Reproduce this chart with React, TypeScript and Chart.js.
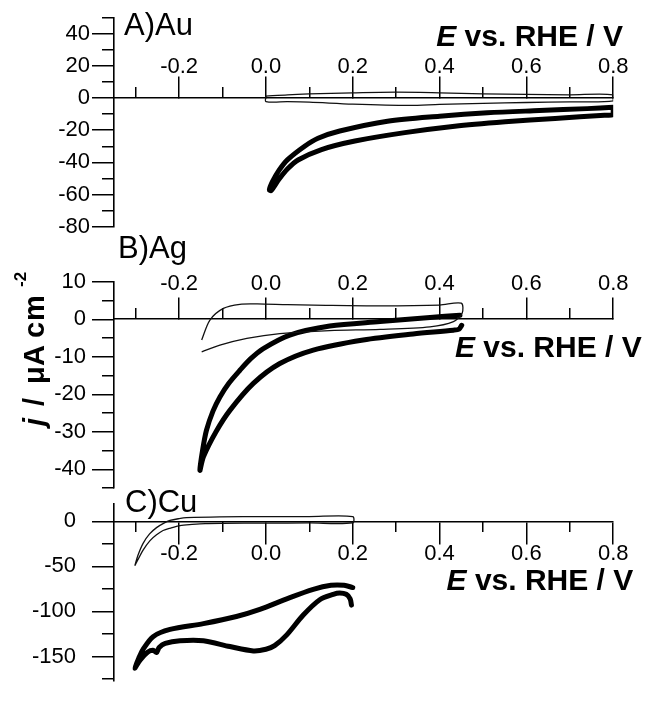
import React, { useEffect, useRef } from 'react';
import { Chart, registerables } from 'chart.js';

Chart.register(...registerables);

const FONT = '"Liberation Sans", Arial, Helvetica, sans-serif';

// ---- axis ticks ----
const xMajorTicks = [-0.2, 0.0, 0.2, 0.4, 0.6, 0.8];
const xMinorTicks = [-0.3, -0.1, 0.1, 0.3, 0.5, 0.7];
const auYMajor = [-80, -60, -40, -20, 0, 20, 40];
const auYMinor = [-70, -50, -30, -10, 10, 30, 50];
const agYMajor = [-40, -30, -20, -10, 0, 10];
const agYMinor = [-45, -35, -25, -15, -5, 5];
const cuYMajor = [-150, -100, -50, 0];
const cuYMinor = [-175, -125, -75, -25];

// ---- A) Au ----
const auThinE = [0.0, 0.05, 0.1, 0.2, 0.3, 0.4, 0.5, 0.6, 0.7, 0.8, 0.8, 0.7, 0.6, 0.5, 0.4, 0.33, 0.2, 0.1, 0.05, 0.0, 0.0];
const auThinJ = [1.2, 2.0, 2.5, 3.2, 3.6, 3.2, 2.6, 2.2, 2.0, 2.0, -1.8, -2.4, -2.8, -3.4, -4.0, -4.6, -3.8, -2.6, -2.3, -2.2, 1.2];
const auThickE = [0.8, 0.74, 0.63, 0.51, 0.40, 0.28, 0.17, 0.12, 0.09, 0.05, 0.03, 0.015, 0.008, 0.012, 0.03, 0.05, 0.074, 0.128, 0.205, 0.32, 0.435, 0.551, 0.666, 0.78, 0.8, 0.8];
const auThickJ = [-5.8, -6.6, -7.8, -9.2, -11.3, -14.4, -20.5, -25.0, -29.8, -38.3, -45.0, -52.0, -57.0, -57.5, -50.5, -44.0, -38.5, -32.0, -26.7, -21.5, -17.5, -14.8, -12.7, -10.7, -10.3, -5.8];

// ---- B) Ag ----
const agThinE = [-0.148, -0.129, -0.098, -0.06, -0.02, 0.05, 0.109, 0.263, 0.40, 0.45, 0.452, 0.432, 0.378, 0.263, 0.147, 0.032, -0.044, -0.106, -0.148];
const agThinJ = [-5.5, -0.2, 2.9, 4.0, 4.1, 3.9, 3.8, 3.6, 3.8, 4.3, 1.6, -0.6, -2.0, -2.7, -3.0, -3.8, -5.1, -6.9, -8.7];
const agThickE = [0.451, 0.445, 0.432, 0.339, 0.224, 0.109, 0.032, -0.029, -0.083, -0.115, -0.144, -0.152, -0.146, -0.137, -0.122, -0.106, -0.085, -0.06, -0.035, -0.006, 0.055, 0.147, 0.263, 0.378, 0.447];
const agThickJ = [-1.6, -2.6, -2.9, -3.9, -5.5, -8.2, -11.8, -17.1, -24.3, -30.0, -36.7, -40.3, -35.0, -29.6, -24.5, -20.7, -17.0, -13.6, -10.5, -7.8, -4.2, -1.8, -0.6, 0.5, 1.1];

// ---- C) Cu ----
const cuThinE = [-0.302, -0.295, -0.283, -0.268, -0.252, -0.235, -0.221, -0.2, -0.183, -0.106, 0.0, 0.1, 0.2, 0.2, 0.1, 0.0, -0.1, -0.14, -0.17, -0.198, -0.22, -0.237, -0.252, -0.267, -0.283, -0.302];
const cuThinJ = [-49.3, -38.0, -24.5, -14.0, -7.0, -2.0, 1.0, 3.0, 4.0, 5.0, 5.2, 5.3, 5.3, -1.6, -1.8, -2.0, -2.2, -2.5, -3.5, -4.8, -7.5, -10.2, -15.0, -21.4, -32.0, -49.3];
const cuThickE = [0.2, 0.18, 0.15, 0.109, 0.048, -0.014, -0.068, -0.144, -0.221, -0.26, -0.283, -0.293, -0.302, -0.29, -0.272, -0.26, -0.252, -0.246, -0.232, -0.198, -0.144, -0.083, -0.029, 0.0, 0.02, 0.048, 0.086, 0.124, 0.155, 0.17, 0.185, 0.194, 0.197];
const cuThickJ = [-73.5, -71.0, -71.0, -75.5, -86.0, -97.7, -105.6, -113.5, -120.0, -128.0, -142.0, -152.0, -163.0, -154.0, -145.0, -143.0, -145.5, -140.0, -135.5, -132.6, -132.6, -139.0, -143.8, -142.0, -138.0, -126.0, -104.0, -87.0, -81.0, -79.5, -81.0, -86.0, -93.0];

const toPts = (xs: number[], ys: number[]) => xs.map((x, i) => ({ x, y: ys[i] }));

type PanelDef = {
  yMin: number;
  yMax: number;
  yMajor: number[];
  yMinor: number[];
  padTop: number;
  padBottom: number;
  xUp: boolean;
  xLabelPad: number;
  yLabelPad: number;
  label: string;
  labelX: number;
  labelY: number;
  titleRight: number;
  titleY: number;
  yTitle: boolean;
  thin: { x: number; y: number }[];
  thick: { x: number; y: number }[];
};

const X_MIN = -0.35;
const X_MAX = 0.8;

function drawXTitle(ctx: CanvasRenderingContext2D, right: number, y: number) {
  ctx.save();
  ctx.fillStyle = '#000';
  ctx.textBaseline = 'alphabetic';
  ctx.textAlign = 'left';
  const f1 = `italic bold 30px ${FONT}`;
  const f2 = `bold 30px ${FONT}`;
  ctx.font = f1;
  const w1 = ctx.measureText('E').width;
  ctx.font = f2;
  const rest = ' vs. RHE / V';
  const w2 = ctx.measureText(rest).width;
  const x0 = right - w1 - w2;
  ctx.font = f1;
  ctx.fillText('E', x0, y);
  ctx.font = f2;
  ctx.fillText(rest, x0 + w1, y);
  ctx.restore();
}

function drawYTitle(ctx: CanvasRenderingContext2D, bx: number, by: number) {
  ctx.save();
  ctx.translate(bx, by);
  ctx.rotate(-Math.PI / 2);
  ctx.fillStyle = '#000';
  ctx.textAlign = 'left';
  ctx.textBaseline = 'alphabetic';
  const fi = `italic bold 29px ${FONT}`;
  const fb = `bold 29px ${FONT}`;
  ctx.font = fi;
  ctx.fillText('j', 1, 0);
  ctx.font = fb;
  ctx.fillText('/', 21, 0);
  ctx.fillText('\u03bc', 43, 0);
  ctx.fillText('A', 61, 0);
  ctx.fillText('c', 89, 0);
  ctx.fillText('m', 106, 0);
  ctx.font = `bold 17px ${FONT}`;
  ctx.fillText('-2', 140, -18);
  ctx.restore();
}

function makeConfig(p: PanelDef): any {
  const textPlugin = {
    id: 'panelText',
    afterDraw(chart: any) {
      const ctx = chart.ctx as CanvasRenderingContext2D;
      ctx.save();
      ctx.fillStyle = '#000';
      ctx.font = `31px ${FONT}`;
      ctx.textAlign = 'left';
      ctx.textBaseline = 'alphabetic';
      ctx.fillText(p.label, p.labelX, p.labelY);
      ctx.restore();
      drawXTitle(ctx, p.titleRight, p.titleY);
      if (p.yTitle) drawYTitle(ctx, 44, 427);
    },
  };
  const tickFont = { family: FONT, size: 22 };
  return {
    type: 'line',
    data: {
      datasets: [
        {
          data: p.thin,
          borderColor: '#111',
          borderWidth: 1.3,
          pointRadius: 0,
          tension: 0.3,
          fill: false,
          xAxisID: 'x',
          yAxisID: 'y',
        },
        {
          data: p.thick,
          borderColor: '#000',
          borderWidth: 5,
          pointRadius: 0,
          tension: 0.3,
          fill: false,
          borderCapStyle: 'round',
          borderJoinStyle: 'round',
          xAxisID: 'x',
          yAxisID: 'y',
        },
      ],
    },
    options: {
      responsive: false,
      maintainAspectRatio: false,
      devicePixelRatio: 1,
      animation: false,
      events: [],
      layout: { padding: { left: 0, right: 34.8, top: p.padTop, bottom: p.padBottom } },
      plugins: { legend: { display: false }, tooltip: { enabled: false }, title: { display: false } },
      scales: {
        x: {
          type: 'linear',
          axis: 'x',
          min: X_MIN,
          max: X_MAX,
          bounds: 'data',
          position: { y: 0 },
          afterFit: (s: any) => { s.height = 0; },
          afterBuildTicks: (s: any) => { s.ticks = xMajorTicks.map((v) => ({ value: v })); },
          grid: { drawOnChartArea: false, drawTicks: true, tickLength: p.xUp ? -22 : 22, color: '#000', lineWidth: 1.5 },
          border: { display: true, color: '#000', width: 1.6 },
          ticks: {
            autoSkip: false,
            maxRotation: 0,
            minRotation: 0,
            mirror: p.xUp,
            padding: p.xLabelPad,
            color: '#000',
            font: tickFont,
            callback: (v: any) => Number(v).toFixed(1),
          },
        },
        xMinor: {
          type: 'linear',
          axis: 'x',
          min: X_MIN,
          max: X_MAX,
          bounds: 'data',
          position: { y: 0 },
          afterFit: (s: any) => { s.height = 0; },
          afterBuildTicks: (s: any) => { s.ticks = xMinorTicks.map((v) => ({ value: v })); },
          grid: { drawOnChartArea: false, drawTicks: true, tickLength: p.xUp ? -11 : 11, color: '#000', lineWidth: 1.5 },
          border: { display: false },
          ticks: { display: false },
        },
        y: {
          type: 'linear',
          axis: 'y',
          min: p.yMin,
          max: p.yMax,
          bounds: 'data',
          position: 'left',
          afterFit: (s: any) => { s.width = 114; },
          afterBuildTicks: (s: any) => { s.ticks = p.yMajor.map((v) => ({ value: v })); },
          grid: { drawOnChartArea: false, drawTicks: true, tickLength: 22, color: '#000', lineWidth: 1.5 },
          border: { display: true, color: '#000', width: 1.6 },
          ticks: {
            autoSkip: false,
            padding: p.yLabelPad,
            color: '#000',
            font: tickFont,
            callback: (v: any) => String(v),
          },
        },
        yMinor: {
          type: 'linear',
          axis: 'y',
          min: p.yMin,
          max: p.yMax,
          bounds: 'data',
          position: { x: X_MIN },
          afterFit: (s: any) => { s.width = 0; },
          afterBuildTicks: (s: any) => { s.ticks = p.yMinor.map((v) => ({ value: v })); },
          grid: { drawOnChartArea: false, drawTicks: true, tickLength: 12, color: '#000', lineWidth: 1.5 },
          border: { display: false },
          ticks: { display: false },
        },
      },
    },
    plugins: [textPlugin],
  };
}

const panels: PanelDef[] = [
  {
    yMin: -80, yMax: 50, yMajor: auYMajor, yMinor: auYMinor,
    padTop: 17.5, padBottom: 710 - 226.8,
    xUp: true, xLabelPad: 4, yLabelPad: 2,
    label: 'A)Au', labelX: 124, labelY: 35,
    titleRight: 623, titleY: 46, yTitle: false,
    thin: toPts(auThinE, auThinJ), thick: toPts(auThickE, auThickJ),
  },
  {
    yMin: -45, yMax: 10, yMajor: agYMajor, yMinor: agYMinor,
    padTop: 281.8, padBottom: 222,
    xUp: true, xLabelPad: 0, yLabelPad: 6,
    label: 'B)Ag', labelX: 118, labelY: 258,
    titleRight: 641.7, titleY: 356.7, yTitle: true,
    thin: toPts(agThinE, agThinJ), thick: toPts(agThickE, agThickJ),
  },
  {
    yMin: -177, yMax: 20, yMajor: cuYMajor, yMinor: cuYMinor,
    padTop: 503.3, padBottom: 0,
    xUp: false, xLabelPad: -3, yLabelPad: 16,
    label: 'C)Cu', labelX: 125, labelY: 512,
    titleRight: 633.3, titleY: 590, yTitle: false,
    thin: toPts(cuThinE, cuThinJ), thick: toPts(cuThickE, cuThickJ),
  },
];

export default function App() {
  const r0 = useRef<HTMLCanvasElement>(null);
  const r1 = useRef<HTMLCanvasElement>(null);
  const r2 = useRef<HTMLCanvasElement>(null);

  useEffect(() => {
    const refs = [r0, r1, r2];
    const charts = refs.map((r, i) => new Chart(r.current as HTMLCanvasElement, makeConfig(panels[i])));
    return () => charts.forEach((c) => c.destroy());
  }, []);

  const cs: React.CSSProperties = { position: 'absolute', left: 0, top: 0, width: 648, height: 710 };
  return (
    <div style={{ position: 'fixed', left: 0, top: 0, width: 648, height: 710, background: '#fff' }}>
      <canvas ref={r0} width={648} height={710} style={cs} />
      <canvas ref={r1} width={648} height={710} style={cs} />
      <canvas ref={r2} width={648} height={710} style={cs} />
    </div>
  );
}
